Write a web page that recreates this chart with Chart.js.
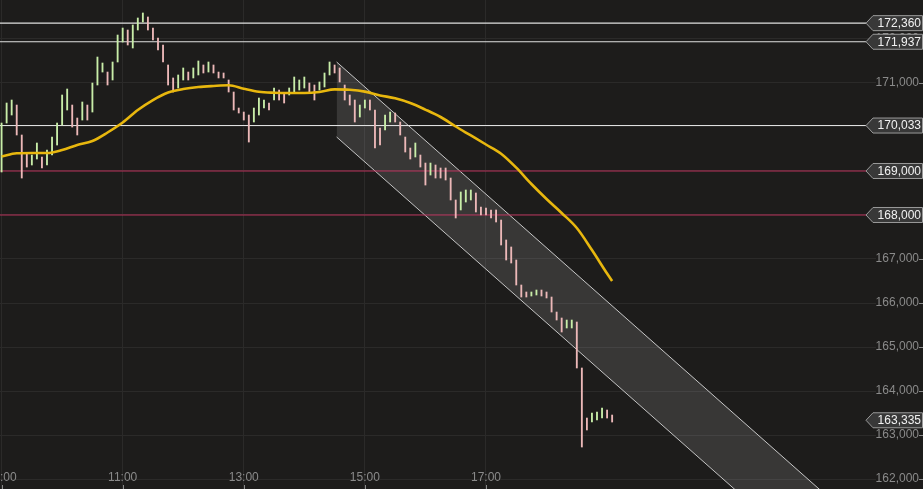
<!DOCTYPE html>
<html>
<head>
<meta charset="utf-8">
<script src="https://cdn.jsdelivr.net/npm/chart.js@4.4.0/dist/chart.umd.min.js"></script>
<style>
  html, body { margin: 0; padding: 0; background: #1d1c1b; overflow: hidden; }
  canvas { display: block; }
</style>
</head>
<body>
<canvas id="myChart" width="923" height="489"></canvas>
<script>
// 5 minute bars, first one at 09:00
var barStart = '09:00';
var barStep = 5;
var barHighs = [
  170.090, 170.545, 170.613, 170.499, 169.818, 169.408, 169.363, 169.636, 169.318, 169.477,
  169.772, 170.090, 170.727, 170.863, 170.499, 170.204, 170.568, 170.499, 170.999, 171.590,
  171.454, 171.249, 171.477, 172.090, 172.249, 172.204, 172.318, 172.477, 172.591, 172.500,
  172.249, 172.023, 171.863, 171.409, 171.114, 171.182, 171.341, 171.249, 171.341, 171.500,
  171.409, 171.477, 171.409, 171.249, 171.227, 171.068, 170.795, 170.431, 170.340, 170.272,
  170.431, 170.658, 170.613, 170.545, 170.886, 170.840, 170.772, 170.886, 171.136, 171.068,
  171.136, 171.000, 170.954, 171.023, 171.227, 171.477, 171.409, 171.341, 170.954, 170.727,
  170.613, 170.499, 170.613, 170.613, 170.386, 169.977, 170.272, 170.340, 170.318, 170.113,
  169.772, 169.522, 169.636, 169.363, 169.181, 169.181, 169.136, 169.068, 169.068, 168.840,
  168.341, 168.523, 168.568, 168.568, 168.500, 168.182, 168.159, 168.114, 168.114, 167.886,
  167.432, 167.273, 166.977, 166.409, 166.250, 166.250, 166.295, 166.295, 166.250, 166.136,
  165.795, 165.659, 165.613, 165.613, 165.568, 164.523, 163.386, 163.500, 163.523, 163.613,
  163.568, 163.454
];
var barLows = [
  168.977, 170.090, 170.272, 169.818, 168.840, 169.090, 169.136, 169.272, 169.068, 169.136,
  169.363, 169.590, 170.045, 170.386, 169.999, 169.818, 170.158, 170.158, 170.340, 170.954,
  171.249, 170.954, 171.068, 171.477, 171.931, 171.863, 171.795, 172.204, 172.386, 172.204,
  171.977, 171.750, 171.477, 170.954, 170.795, 170.886, 171.068, 171.068, 171.114, 171.182,
  171.227, 171.249, 171.227, 171.114, 171.114, 170.795, 170.386, 170.318, 170.158, 169.658,
  170.113, 170.272, 170.431, 170.386, 170.613, 170.613, 170.545, 170.727, 170.772, 170.840,
  170.886, 170.795, 170.613, 170.840, 170.909, 171.182, 171.227, 171.023, 170.613, 170.499,
  170.113, 170.227, 170.431, 170.386, 169.522, 169.590, 169.931, 170.113, 170.113, 169.818,
  169.431, 169.272, 169.318, 169.090, 168.681, 168.908, 168.840, 168.840, 168.795, 168.341,
  167.932, 168.114, 168.295, 168.341, 168.068, 168.000, 168.000, 167.932, 167.841, 167.318,
  166.977, 166.909, 166.409, 166.136, 166.136, 166.159, 166.182, 166.159, 166.114, 165.795,
  165.613, 165.341, 165.432, 165.432, 164.523, 162.727, 163.114, 163.295, 163.341, 163.386,
  163.386, 163.295
];

var maTimes = [
  '09:00', '09:15', '09:30', '09:45', '10:00', '10:15', '10:30', '10:45', '11:00', '11:15',
  '11:30', '11:45', '12:00', '12:15', '12:30', '12:45', '13:00', '13:15', '13:30', '13:45',
  '14:00', '14:15', '14:30', '14:45', '15:00', '15:15', '15:30', '15:45', '16:00', '16:15',
  '16:30', '16:45', '17:00', '17:15', '17:30', '17:45', '18:00', '18:15', '18:30', '18:45',
  '19:00', '19:05'
];
var maValues = [
  169.329, 169.402, 169.409, 169.409, 169.477, 169.591, 169.682, 169.875, 170.102, 170.386,
  170.613, 170.784, 170.863, 170.909, 170.932, 170.947, 170.868, 170.800, 170.779, 170.772,
  170.772, 170.795, 170.854, 170.845, 170.804, 170.718, 170.652, 170.545, 170.395, 170.227,
  170.011, 169.807, 169.602, 169.393, 169.075, 168.704, 168.363, 168.045, 167.704, 167.204,
  166.670, 166.500
];

var levelValues = [172.360, 171.937, 170.033, 169.000, 168.000];
var levelColors = ['#e0e0e0', '#e0e0e0', '#e0e0e0', '#b8305a', '#b8305a'];
var lastPrice = 163.335;

var channelTimes = ['14:32', '23:30'];
var channelUpper = [171.477, 160.556];
var channelLower = [169.773, 158.852];

var timeTicks = ['09:00', '11:00', '13:00', '15:00', '17:00'];

var xMin = 8.974, xMax = 23.276;
var FONT = '"Liberation Sans", Arial, sans-serif';

function toHours(s) {
  var p = s.split(':');
  return parseInt(p[0], 10) + parseInt(p[1], 10) / 60;
}

function fmt(v) {
  return Number(v).toFixed(3).replace('.', ',');
}

var barData = [];
var barColors = [];
var t0 = toHours(barStart);
for (var i = 0; i < barHighs.length; i++) {
  barData.push({x: t0 + i * barStep / 60, y: [barLows[i], barHighs[i]]});
  var mid = (barLows[i] + barHighs[i]) / 2;
  var prev = i > 0 ? (barLows[i - 1] + barHighs[i - 1]) / 2 : mid;
  barColors.push(mid >= prev ? '#c8eda8' : '#ecb8b8');
}

var datasets = [];

// channel: upper border, then lower border filled up to it
datasets.push({
  type: 'line',
  data: channelTimes.map(function (t, k) { return {x: toHours(t), y: channelUpper[k]}; }),
  borderColor: '#c4c4c4',
  borderWidth: 1,
  pointRadius: 0,
  fill: false,
  order: 5
});
datasets.push({
  type: 'line',
  data: channelTimes.map(function (t, k) { return {x: toHours(t), y: channelLower[k]}; }),
  borderColor: '#c4c4c4',
  borderWidth: 1,
  pointRadius: 0,
  fill: '-1',
  backgroundColor: 'rgba(255,255,255,0.12)',
  order: 4
});

for (var j = 0; j < levelValues.length; j++) {
  datasets.push({
    type: 'line',
    data: [{x: xMin, y: levelValues[j]}, {x: xMax, y: levelValues[j]}],
    borderColor: levelColors[j],
    borderWidth: 1.1,
    pointRadius: 0,
    fill: false,
    order: 3
  });
}

datasets.push({
  type: 'bar',
  data: barData,
  backgroundColor: barColors,
  barThickness: 1.2,
  grouped: false,
  order: 2
});

datasets.push({
  type: 'line',
  data: maTimes.map(function (t, k) { return {x: toHours(t), y: maValues[k]}; }),
  borderColor: '#e8b70e',
  borderWidth: 2.6,
  pointRadius: 0,
  cubicInterpolationMode: 'monotone',
  fill: false,
  order: 1
});

function drawTag(ctx, y, text) {
  var tip = 866, left = 873, right = 922.5, h = 7.5;
  ctx.beginPath();
  ctx.moveTo(tip, y);
  ctx.lineTo(left, y - h);
  ctx.lineTo(right, y - h);
  ctx.lineTo(right, y + h);
  ctx.lineTo(left, y + h);
  ctx.closePath();
  ctx.fillStyle = '#383838';
  ctx.fill();
  ctx.strokeStyle = '#9a9a9a';
  ctx.lineWidth = 1;
  ctx.stroke();
  ctx.fillStyle = '#f2f2f2';
  ctx.textAlign = 'right';
  ctx.textBaseline = 'middle';
  ctx.fillText(text, 921, y + 0.5);
}

var overlay = {
  id: 'overlay',
  beforeDraw: function (chart) {
    var ctx = chart.ctx;
    ctx.save();
    ctx.fillStyle = '#1d1c1b';
    ctx.fillRect(0, 0, chart.width, chart.height);
    ctx.restore();
  },
  afterDraw: function (chart) {
    var ctx = chart.ctx;
    var xs = chart.scales.x, ys = chart.scales.y;
    ctx.save();
    ctx.font = '12px ' + FONT;
    ctx.fillStyle = '#8a8a8a';
    ctx.textAlign = 'center';
    ctx.textBaseline = 'middle';
    timeTicks.forEach(function (t) {
      var x = xs.getPixelForValue(toHours(t));
      ctx.fillText(t, x, 478);
      ctx.fillRect(Math.round(x), 485, 1, 4);
    });
    ys.ticks.forEach(function (tk) {
      var y = ys.getPixelForValue(tk.value);
      ctx.fillRect(919, Math.round(y), 4, 1);
    });
    levelValues.concat([lastPrice]).forEach(function (v) {
      drawTag(ctx, ys.getPixelForValue(v), fmt(v));
    });
    ctx.restore();
  }
};

new Chart(document.getElementById('myChart'), {
  type: 'line',
  data: {datasets: datasets},
  plugins: [overlay],
  options: {
    responsive: false,
    animation: false,
    layout: {padding: {left: 0, right: 4, top: 0, bottom: 0}},
    plugins: {
      legend: {display: false},
      tooltip: {enabled: false}
    },
    scales: {
      x: {
        type: 'linear',
        min: xMin,
        max: xMax,
        offset: false,
        afterFit: function (s) {
          s.height = 0;
          s.paddingLeft = 0;
          s.paddingRight = 0;
        },
        afterBuildTicks: function (s) {
          s.ticks = timeTicks.map(function (t) { return {value: toHours(t)}; });
        },
        grid: {color: '#2b2a29', drawTicks: false, offset: false},
        border: {display: false},
        ticks: {display: false}
      },
      y: {
        position: 'right',
        min: 161.773,
        max: 172.886,
        afterFit: function (s) {
          s.width = 53;
          s.paddingTop = 0;
          s.paddingBottom = 0;
        },
        grid: {color: '#2b2a29', tickLength: 10},
        border: {display: false},
        ticks: {
          stepSize: 1,
          includeBounds: false,
          crossAlign: 'far',
          color: '#8a8a8a',
          font: {size: 12, family: FONT},
          callback: function (v) { return fmt(v); }
        }
      }
    }
  }
});
</script>
</body>
</html>
